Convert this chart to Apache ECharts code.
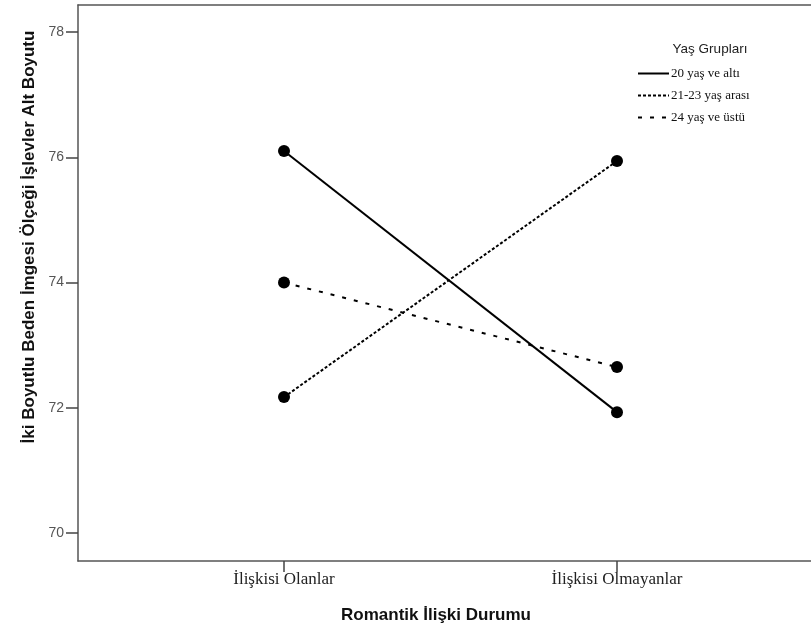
<!DOCTYPE html>
<html>
<head>
<meta charset="utf-8">
<script src="https://cdn.jsdelivr.net/npm/echarts@6/dist/echarts.min.js"></script>
<style>html,body{margin:0;padding:0;background:#fff}#c{width:811px;height:632px}</style>
</head>
<body>
<div id="c"></div>
<script>
const categories = ['İlişkisi Olanlar', 'İlişkisi Olmayanlar'];
const seriesNames = ['20 yaş ve altı', '21-23 yaş arası', '24 yaş ve üstü'];
const s20 = [76.10, 71.93];
const s2123 = [72.17, 75.94];
const s24 = [74.00, 72.65];
const yMin = 70, yMax = 78, yStep = 2;
const xTitle = 'Romantik İlişki Durumu';
const yTitle = 'İki Boyutlu Beden İmgesi Ölçeği İşlevler Alt Boyutu';
const legendTitle = 'Yaş Grupları';

const chart = echarts.init(document.getElementById('c'), null, {renderer: 'canvas'});
const sym = {symbol: 'circle', symbolSize: 12, itemStyle: {color: '#000'}};
const frameLine = {show: true, lineStyle: {color: '#555', width: 1.5}};
chart.setOption({
  animation: false,
  backgroundColor: '#fff',
  title: {
    text: legendTitle, left: 705, top: 37, textAlign: 'center',
    textStyle: {fontFamily: 'Liberation Sans', fontSize: 13.5, fontWeight: 'normal', color: '#222'}
  },
  legend: {
    orient: 'vertical', left: 632, top: 62, itemWidth: 31, itemHeight: 12, itemGap: 9,
    itemStyle: {opacity: 0},
    textStyle: {fontFamily: 'Liberation Serif', fontSize: 13, color: '#111', padding: [0, 0, 0, -3]},
    data: seriesNames
  },
  grid: [
    {left: 284, right: 194, top: 32, bottom: 99, containLabel: false},
    {left: 78, top: 5, width: 760, bottom: 71, show: false}
  ],
  xAxis: [
    {
      gridIndex: 0, type: 'category', data: categories, boundaryGap: false, position: 'bottom', offset: 28,
      axisLine: {show: false},
      axisTick: {show: true, length: 11, lineStyle: {color: '#444', width: 1.5}},
      axisLabel: {margin: 10, fontFamily: 'Liberation Serif', fontSize: 17, color: '#222'},
      splitLine: {show: false}
    },
    {gridIndex: 1, type: 'value', min: 0, max: 1, position: 'bottom', axisLine: frameLine, axisTick: {show: false}, axisLabel: {show: false}, splitLine: {show: false}},
    {gridIndex: 1, type: 'value', min: 0, max: 1, position: 'top', axisLine: frameLine, axisTick: {show: false}, axisLabel: {show: false}, splitLine: {show: false}}
  ],
  yAxis: [
    {
      gridIndex: 0, type: 'value', min: yMin, max: yMax, interval: yStep, offset: 206,
      axisLine: {show: false},
      axisTick: {show: true, length: 12, lineStyle: {color: '#444', width: 1.5}},
      axisLabel: {margin: 14, fontFamily: 'Liberation Sans', fontSize: 14, color: '#555'},
      splitLine: {show: false}
    },
    {gridIndex: 1, type: 'value', min: 0, max: 1, position: 'left', axisLine: frameLine, axisTick: {show: false}, axisLabel: {show: false}, splitLine: {show: false}}
  ],
  graphic: [
    {type: 'text', x: 29, y: 237, rotation: Math.PI / 2,
      style: {text: yTitle, fontFamily: 'Liberation Sans', fontSize: 17, fontWeight: 'bold', fill: '#111', align: 'center', verticalAlign: 'middle'}},
    {type: 'text', x: 436, y: 615,
      style: {text: xTitle, fontFamily: 'Liberation Sans', fontSize: 17, fontWeight: 'bold', fill: '#111', align: 'center', verticalAlign: 'middle'}}
  ],
  series: [
    Object.assign({name: seriesNames[0], type: 'line', data: s20, lineStyle: {color: '#000', width: 2, type: 'solid'}}, sym),
    Object.assign({name: seriesNames[1], type: 'line', data: s2123, lineStyle: {color: '#000', width: 2, type: [3, 2]}}, sym),
    Object.assign({name: seriesNames[2], type: 'line', data: s24, lineStyle: {color: '#000', width: 2, type: [4, 8]}}, sym)
  ]
});
</script>
</body>
</html>
